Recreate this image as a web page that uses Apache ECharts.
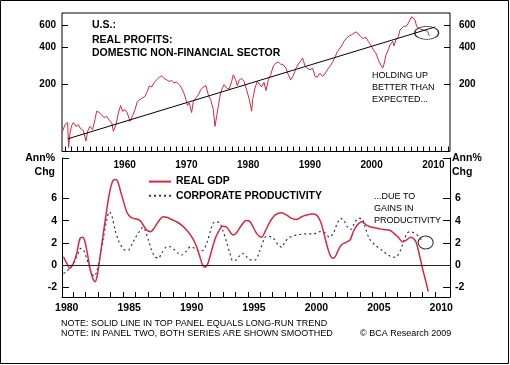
<!DOCTYPE html>
<html><head><meta charset="utf-8">
<script src="https://cdn.jsdelivr.net/npm/echarts@6/dist/echarts.min.js"></script>
<style>html,body{margin:0;padding:0;background:#fff}#c{width:510px;height:365px}</style>
</head><body><div id="c"></div><script>
const FONT = "'Liberation Sans', Arial, Helvetica, sans-serif";

// Top panel: real profits, domestic non-financial sector (log scale)
const profitYears = [1949.95,1950.33,1950.76,1950.92,1951.15,1951.4,1951.7,1952.1,1952.5,1952.87,
1953.3,1953.73,1954.0,1954.38,1954.8,1955.19,1955.46,1955.9,1956.27,1956.65,
1957.08,1957.51,1957.9,1958.16,1958.6,1958.97,1959.35,1959.67,1960.05,1960.43,
1960.86,1961.3,1961.67,1962.05,1962.48,1962.91,1963.29,1963.67,1964.0,1964.37,
1964.75,1965.18,1965.61,1965.99,1966.37,1966.8,1967.23,1967.61,1967.99,1968.42,
1968.85,1969.23,1969.6,1969.93,1970.15,1970.47,1970.85,1971.12,1971.55,1971.93,
1972.31,1972.74,1973.17,1973.55,1973.93,1974.36,1974.63,1974.9,1975.17,1975.44,
1975.71,1976.09,1976.52,1976.95,1977.33,1977.6,1977.98,1978.25,1978.57,1978.95,
1979.33,1979.76,1980.19,1980.57,
1980.73,1981.11,1981.49,1981.81,1982.19,1982.57,1982.89,1983.27,1983.65,1984.08,
1984.51,1984.89,1985.27,1985.7,1986.13,1986.51,1986.89,1987.32,1987.75,1988.13,
1988.51,1988.83,1989.21,1989.59,1990.02,1990.45,1990.83,1991.21,1991.64,1992.07,
1992.45,1992.83,1993.26,1993.69,1994.07,1994.45,1994.77,1995.15,1995.53,1995.96,
1996.39,1996.77,1997.15,1997.58,1997.85,1998.23,1998.66,1999.09,1999.47,1999.85,
2000.28,2000.71,2001.09,2001.47,2001.79,2002.01,2002.33,2002.71,2002.98,2003.41,
2003.63,2003.95,2004.33,2004.6,2004.87,2005.14,2005.41,2005.68,2005.95,2006.22,
2006.49,2006.76,2007.03,2007.3,2007.57,2007.84,2008.11,2008.38,2008.65,2008.92,
2009.19,2009.35];
const profitValues = [85,96,100,63,82.5,94,100,93,96,89,
86,71,85,93,87.6,105,122.8,120,115,109,
112,103.8,100,85,96,118.8,136.5,122.8,126.5,118.8,
102,113.5,126.5,146.5,152,157,161.5,176.6,196.4,191.7,
206.8,219,230,236,224,219,212.6,216,207,209,
200,188,171,152,136.5,143,120,146.5,157,166,
182,191.7,196.4,166,152,126.5,93,112,134.8,161.5,
182,200,188,185,212.6,240,219,196.4,219,224,
212.6,182,152,122.8,
152,188,212.6,207,192,209,179.5,219,240,282,
297.5,303,292,288,271,240,219,236,271,292,
310,327,282,271,263,271,233,230,247,233,
244,263,282,303,332,366,385,408,444,472,
491,500,517,528,517,484,468,478,443,416,
380,356,316,288,271,292,346,380,416,444,
408,456,484,547,565,582,600,589,619,658,
698,720,658,582,582,556,575,547,528,540,
517,491];
// Long-run trend (two end points)
const trendYears = [1950.8, 2010.3];
const trendValues = [74, 578];

// Bottom panel: smoothed annual % change
const gdpYears = [1979.74,1980.0,1980.26,1980.53,1980.8,1981.06,1981.28,1981.46,1981.65,1981.86,
1982.08,1982.27,1982.45,1982.67,1982.93,1983.2,1983.47,1983.73,1983.95,1984.14,
1984.32,1984.59,1984.8,1985.07,1985.33,1985.6,1985.87,1986.08,1986.4,1986.72,
1986.99,1987.33,1987.73,1988.0,1988.4,1988.8,1989.2,1989.6,1990.0,1990.35,
1990.62,1990.88,1991.07,1991.26,1991.47,1991.69,1991.95,1992.22,1992.48,1992.81,
1993.13,1993.34,1993.66,1994.01,1994.36,1994.68,1995.21,1995.61,1995.88,1996.28,
1996.68,1997.22,1997.62,1998.02,1998.42,1998.82,1999.22,1999.62,2000.02,2000.34,
2000.6,2000.87,2001.09,2001.3,2001.51,2001.75,2002.02,2002.29,2002.69,2002.95,
2003.27,2003.62,2004.02,2004.42,2004.95,2005.36,2005.84,2006.16,2006.56,2006.9,
2007.22,2007.54,2007.76,2007.97,2008.16,2008.34,2008.56,2008.77,2008.96];
const gdpValues = [0.75,0.15,-0.3,0.15,1.05,2.4,2.5,2.1,1.05,-0.3,
-1.2,-1.5,-0.9,0.75,2.85,4.95,6.75,7.65,7.7,7.35,
6.6,5.55,4.8,4.35,4.2,4.15,4.0,3.7,3.15,3.0,
3.3,3.9,4.35,4.3,4.1,3.9,3.6,3.15,2.55,1.8,
0.9,0.0,-0.2,0.0,0.75,1.65,2.55,3.15,3.5,3.4,
2.9,2.7,3.0,3.6,4.0,3.9,2.85,2.5,3.0,3.9,
4.5,4.7,4.5,4.2,4.1,4.35,4.5,4.6,4.5,3.9,
2.85,1.65,0.9,0.6,0.75,1.35,1.85,2.0,2.25,3.0,
3.6,3.9,3.6,3.4,3.3,3.2,3.15,2.9,2.5,2.1,
2.25,2.5,2.4,2.1,1.35,0.45,-0.6,-1.5,-2.4];
const prodYears = [1979.74,1980.0,1980.26,1980.53,1980.85,1981.12,1981.33,1981.55,1981.76,1982.0,
1982.19,1982.4,1982.67,1982.93,1983.2,1983.41,1983.63,1983.87,1984.13,1984.4,
1984.67,1984.93,1985.2,1985.47,1985.81,1986.08,1986.27,1986.54,1986.8,1987.07,
1987.34,1987.6,1987.95,1988.27,1988.59,1988.94,1989.2,1989.55,1989.92,1990.27,
1990.62,1990.94,1991.26,1991.53,1991.74,1992.0,1992.27,1992.54,1992.8,1993.07,
1993.29,1993.56,1993.82,1994.09,1994.36,1994.62,1995.08,1995.48,1995.88,1996.15,
1996.55,1996.95,1997.22,1997.48,1997.88,1998.42,1999.08,1999.75,2000.28,2000.68,
2001.03,2001.35,2001.67,2001.94,2002.21,2002.47,2002.74,2003.01,2003.35,2003.62,
2003.89,2004.23,2004.69,2005.22,2005.76,2006.1,2006.42,2006.74,2007.01,2007.28,
2007.54,2007.81,2008.08,2008.29,2008.5];
const prodValues = [-0.75,-0.6,-0.15,0.15,0.9,1.5,1.35,0.75,0.0,-0.75,
-1.0,-0.6,0.75,2.4,4.05,4.8,4.35,3.15,2.25,1.65,
1.35,1.35,1.8,2.4,3.0,3.4,3.15,2.25,1.35,0.75,
0.6,1.05,1.6,1.65,1.4,1.05,0.9,1.2,1.65,1.5,
1.25,1.35,2.1,3.15,3.8,3.9,3.75,3.0,2.1,1.05,
0.4,0.45,0.8,1.05,0.8,0.5,0.45,1.35,2.5,2.6,
2.4,1.8,1.6,2.1,2.5,2.7,2.8,2.8,3.0,2.9,
2.5,2.85,3.75,4.2,4.0,3.45,3.2,3.7,4.2,4.2,
3.45,2.4,1.8,1.35,0.9,0.7,0.75,1.35,2.25,2.9,
3.0,2.9,2.7,2.4,2.25];

// Tick labels
const topYearLabels = [1960,1970,1980,1990,2000,2010];
const bottomYearLabels = [1980,1985,1990,1995,2000,2005,2010];
const topValueLabels = [200,400,600];
const bottomValueLabels = [-2,0,2,4,6];

// Annotation ellipses (centres in data units)
const topCircle = [2008.92, 518];
const bottomCircle = [2008.75, 2.03];

const zip = (a, b) => a.map((v, i) => [v, b[i]]);

const topMinorTicks = [];
for (let y = 1950; y <= 2012; y++) topMinorTicks.push(y + 0.35);
const bottomMinorTicks = [];
for (let y = 1980; y <= 2009; y++) bottomMinorTicks.push(y + 0.5);

const TOP_MIN = 58.6, TOP_MAX = 747;
const BOT_MIN = -2.88, BOT_MAX = 9.64;

const lblStyle = (size, margin, extra) => Object.assign({
  fontFamily: FONT, fontWeight: 'bold', fontSize: size, color: '#000', margin: margin
}, extra || {});

const RED = '#d42a3a';
const BLUE = '#2a2a8c';

const chart = echarts.init(document.getElementById('c'), null, {renderer: 'canvas'});

const txt = (text, x, y, size, weight, align) => ({
  type: 'text', x: x, y: y, silent: true,
  style: {text: text, fill: '#000', font: (weight || 'normal') + ' ' + size + 'px ' + FONT,
          align: align || 'left', verticalAlign: 'middle'}
});

chart.setOption({
  animation: false,
  backgroundColor: '#fff',
  grid: [
    {left: 62, right: 60, top: 13, height: 138.5, show: true, borderColor: '#000', borderWidth: 1, backgroundColor: 'transparent'},
    {left: 62, right: 60, top: 158, height: 139}
  ],
  xAxis: [
    {gridIndex: 0, type: 'value', min: 1949.85, max: 2012.7,
     axisLine: {show: false}, splitLine: {show: false},
     axisTick: {show: true, inside: true, length: 5, customValues: topMinorTicks, lineStyle: {color: '#000'}},
     axisLabel: lblStyle(10, 9, {customValues: topYearLabels, formatter: v => String(Math.round(v))})},
    {gridIndex: 1, type: 'value', min: 1979.62, max: 2010.7,
     axisLine: {show: true, onZero: false, lineStyle: {color: '#000', width: 1}}, splitLine: {show: false},
     axisTick: {show: true, inside: true, length: 5, customValues: bottomMinorTicks, lineStyle: {color: '#000'}},
     axisLabel: lblStyle(10.5, 6, {customValues: bottomYearLabels, formatter: v => String(Math.round(v))})}
  ],
  yAxis: [
    {gridIndex: 0, type: 'log', min: TOP_MIN, max: TOP_MAX, position: 'left',
     axisLine: {show: false}, splitLine: {show: false},
     axisTick: {show: true, inside: true, length: 6, customValues: topValueLabels, lineStyle: {color: '#000'}},
     axisLabel: lblStyle(10, 6, {customValues: topValueLabels, formatter: v => String(Math.round(v))})},
    {gridIndex: 0, type: 'log', min: TOP_MIN, max: TOP_MAX, position: 'right',
     axisLine: {show: false}, splitLine: {show: false},
     axisTick: {show: true, inside: true, length: 6, customValues: topValueLabels, lineStyle: {color: '#000'}},
     axisLabel: lblStyle(10, 9, {customValues: topValueLabels, formatter: v => String(Math.round(v))})},
    {gridIndex: 1, type: 'value', min: BOT_MIN, max: BOT_MAX, position: 'left',
     axisLine: {show: true, onZero: false, lineStyle: {color: '#000', width: 1}}, splitLine: {show: false},
     axisTick: {show: true, inside: true, length: 7, customValues: bottomValueLabels.concat([BOT_MAX]), lineStyle: {color: '#000'}},
     axisLabel: lblStyle(10.5, 5, {customValues: bottomValueLabels, formatter: v => String(Math.round(v))})},
    {gridIndex: 1, type: 'value', min: BOT_MIN, max: BOT_MAX, position: 'right',
     axisLine: {show: true, onZero: false, lineStyle: {color: '#000', width: 1}}, splitLine: {show: false},
     axisTick: {show: true, inside: true, length: 7, customValues: bottomValueLabels.concat([BOT_MAX]), lineStyle: {color: '#000'}},
     axisLabel: lblStyle(10.5, 5, {customValues: bottomValueLabels, formatter: v => String(Math.round(v))})}
  ],
  legend: {
    data: ['REAL GDP', 'CORPORATE PRODUCTIVITY'],
    orient: 'vertical', left: 148, top: 176, itemWidth: 22, itemHeight: 14, itemGap: 3,
    selectedMode: false, padding: 0,
    itemStyle: {opacity: 0},
    textStyle: {fontFamily: FONT, fontWeight: 'bold', fontSize: 10.4, color: '#000'}
  },
  series: [
    {name: 'Real profits', type: 'line', xAxisIndex: 0, yAxisIndex: 0, data: zip(profitYears, profitValues),
     symbol: 'none', silent: true, lineStyle: {color: RED, width: 1}, z: 3},
    {name: 'Trend', type: 'line', xAxisIndex: 0, yAxisIndex: 0, data: zip(trendYears, trendValues),
     symbol: 'none', silent: true, lineStyle: {color: '#000', width: 1}, z: 4},
    {name: 'topCircle', type: 'scatter', xAxisIndex: 0, yAxisIndex: 0, data: [topCircle],
     symbol: 'circle', symbolSize: [24, 13], silent: true, z: 5,
     itemStyle: {color: 'rgba(0,0,0,0)', borderColor: '#000', borderWidth: 1}},
    {name: 'REAL GDP', type: 'line', xAxisIndex: 1, yAxisIndex: 2, data: zip(gdpYears, gdpValues),
     symbol: 'none', smooth: 0.3, silent: true, lineStyle: {color: RED, width: 1.5}, itemStyle: {color: RED}, z: 4,
     markLine: {silent: true, symbol: 'none', label: {show: false}, lineStyle: {color: '#222', width: 1, type: 'solid'},
                data: [{yAxis: 0}], animation: false}},
    {name: 'CORPORATE PRODUCTIVITY', type: 'line', xAxisIndex: 1, yAxisIndex: 2, data: zip(prodYears, prodValues),
     symbol: 'none', smooth: 0.3, silent: true, lineStyle: {color: BLUE, width: 1.2, type: [2, 3]}, itemStyle: {color: BLUE}, z: 3},
    {name: 'bottomCircle', type: 'scatter', xAxisIndex: 1, yAxisIndex: 2, data: [bottomCircle],
     symbol: 'circle', symbolSize: [15, 13], silent: true, z: 5,
     itemStyle: {color: 'rgba(0,0,0,0)', borderColor: '#000', borderWidth: 1}}
  ],
  graphic: [
    {type: 'rect', silent: true, shape: {x: 0.5, y: 0.5, width: 508, height: 363},
     style: {fill: 'none', stroke: '#000', lineWidth: 1}},
    txt('U.S.:', 92, 25.5, 10.5, 'bold'),
    txt('REAL PROFITS:', 92, 40.5, 10.5, 'bold'),
    txt('DOMESTIC NON-FINANCIAL SECTOR', 92, 53, 10.5, 'bold'),
    txt('HOLDING UP', 372, 76, 9),
    txt('BETTER THAN', 372, 88, 9),
    txt('EXPECTED...', 372, 99.5, 9),
    txt('...DUE TO', 374, 197, 9),
    txt('GAINS IN', 374, 209, 9),
    txt('PRODUCTIVITY', 374, 220.5, 9),
    txt('Ann%', 55, 158.5, 10.5, 'bold', 'right'),
    txt('Chg', 55, 172.5, 10.5, 'bold', 'right'),
    txt('Ann%', 452, 158.5, 10.5, 'bold'),
    txt('Chg', 452, 172.5, 10.5, 'bold'),
    txt('NOTE: SOLID LINE IN TOP PANEL EQUALS LONG-RUN TREND', 61, 323.5, 9),
    txt('NOTE: IN PANEL TWO, BOTH SERIES ARE SHOWN SMOOTHED', 61, 333.5, 9),
    txt('\u00A9 BCA Research 2009', 360, 333.5, 9)
  ]
});
</script></body></html>
